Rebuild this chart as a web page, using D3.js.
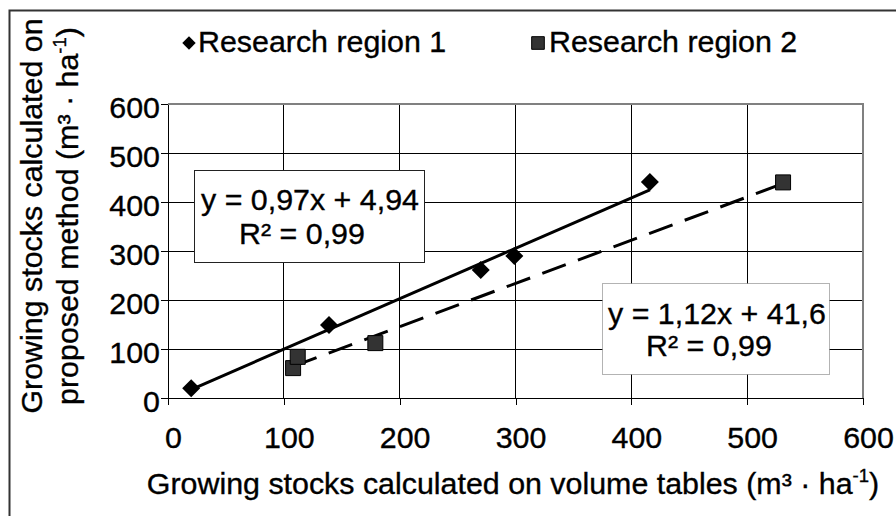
<!DOCTYPE html>
<html><head><meta charset="utf-8">
<script src="https://cdn.jsdelivr.net/npm/d3@7"></script>
<style>
body{margin:0;background:#fff;}
text{font-family:"Liberation Sans",Arial,sans-serif;fill:#000;stroke:#000;stroke-width:0.35px;}
</style></head><body>
<svg id="c" width="896" height="516"></svg>
<script>
// ---- data ----
const seriesNames = ["Research region 1", "Research region 2"];
const region1X = [20, 139, 270, 299, 416];
const region1Y = [20, 149, 261, 290, 441];
const region2X = [108, 112, 179, 531];
const region2Y = [61, 84, 112, 440];
const xTicks = [0, 100, 200, 300, 400, 500, 600];
const yTicks = [0, 100, 200, 300, 400, 500, 600];
const eq1Lines = ["y = 0,97x + 4,94", "R² = 0,99"];
const eq2Lines = ["y = 1,12x + 41,6", "R² = 0,99"];
const xTitle = "Growing stocks calculated on volume tables (m³ · ha";
const yTitle1 = "Growing stocks calculated on";
const yTitle2 = "proposed method (m³ · ha";
const supText = "-1";

// ---- layout ----
const FS = 29.5, SX = 1.03;
const svg = d3.select("#c");
const x = d3.scaleLinear().domain([0, 600]).range([168, 863]);
const y = d3.scaleLinear().domain([0, 600]).range([398, 104]);

// outer chart border (runs off right/bottom)
svg.append("rect").attr("x", 9.5).attr("y", 10.5).attr("width", 900).attr("height", 520)
  .attr("fill", "#fff").attr("stroke", "#333").attr("stroke-width", 2);

// grid lines
const g = svg.append("g").attr("shape-rendering", "crispEdges");
g.selectAll(".vg").data(xTicks.filter(d => d > 0 && d < 600)).join("line")
  .attr("x1", d => x(d)).attr("x2", d => x(d)).attr("y1", y(600)).attr("y2", y(0))
  .attr("stroke", "#000").attr("stroke-width", 1);
g.selectAll(".hg").data(yTicks.filter(d => d > 0 && d < 600)).join("line")
  .attr("x1", x(0)).attr("x2", x(600)).attr("y1", d => y(d)).attr("y2", d => y(d))
  .attr("stroke", "#000").attr("stroke-width", 1);
// plot border top/right
g.append("line").attr("x1", x(0)).attr("x2", x(600) + 1).attr("y1", y(600)).attr("y2", y(600))
  .attr("stroke", "#808080").attr("stroke-width", 1.5);
g.append("line").attr("x1", x(600)).attr("x2", x(600)).attr("y1", y(600)).attr("y2", y(0))
  .attr("stroke", "#808080").attr("stroke-width", 2);

// axes
const xAxis = svg.append("g").attr("transform", `translate(0,${y(0)})`)
  .call(d3.axisBottom(x).tickValues(xTicks).tickSize(7).tickSizeOuter(0));
const yAxis = svg.append("g").attr("transform", `translate(${x(0)},0)`)
  .call(d3.axisLeft(y).tickValues(yTicks).tickSize(7).tickSizeOuter(0));
[xAxis, yAxis].forEach(a => {
  a.attr("shape-rendering", "crispEdges");
  a.select(".domain").attr("stroke", "#000").attr("stroke-width", 1.3);
  a.selectAll(".tick line").attr("stroke", "#000");
  a.selectAll("text").style("font-size", FS + "px").attr("fill", "#000")
    .attr("font-family", null).attr("shape-rendering", "auto");
});
xAxis.selectAll("text").attr("x", 0).attr("y", 0).attr("dy", null)
  .attr("transform", `translate(5,50) scale(${SX},1)`);
yAxis.selectAll("text").attr("x", 0).attr("y", 0).attr("dy", null)
  .attr("transform", `translate(-8,13) scale(${SX},1)`);

// trend lines (least squares through each series)
function fit(xs, ys) {
  const mx = d3.mean(xs), my = d3.mean(ys);
  let sxy = 0, sxx = 0;
  xs.forEach((v, i) => { sxy += (v - mx) * (ys[i] - my); sxx += (v - mx) * (v - mx); });
  const b = sxy / sxx, a = my - b * mx;
  const x0 = d3.min(xs), x1 = d3.max(xs);
  return [[x0, a + b * x0], [x1, a + b * x1]];
}
const line = d3.line().x(d => x(d[0])).y(d => y(d[1]));
svg.append("path").attr("d", line(fit(region1X, region1Y)))
  .attr("fill", "none").attr("stroke", "#000").attr("stroke-width", 3);
svg.append("path").attr("d", line(fit(region2X, region2Y)))
  .attr("fill", "none").attr("stroke", "#000").attr("stroke-width", 3)
  .attr("stroke-dasharray", "25,13");

// markers
const diamond = { draw(ctx, size) { const r = Math.sqrt(size / 2);
  ctx.moveTo(0, -r); ctx.lineTo(r, 0); ctx.lineTo(0, r); ctx.lineTo(-r, 0); ctx.closePath(); } };
const r1 = region1X.map((v, i) => [v, region1Y[i]]);
const r2 = region2X.map((v, i) => [v, region2Y[i]]);
svg.selectAll(".m1").data(r1).join("path")
  .attr("transform", d => `translate(${x(d[0])},${y(d[1])})`)
  .attr("d", d3.symbol().type(diamond).size(162)).attr("fill", "#000");
svg.selectAll(".m2").data(r2).join("path")
  .attr("transform", d => `translate(${x(d[0])},${y(d[1])})`)
  .attr("d", d3.symbol().type(d3.symbolSquare).size(225))
  .attr("fill", "#333").attr("stroke", "#000").attr("stroke-width", 1);

// helper for stretched text
function txt(parent, str, tx, ty, anchor, rot) {
  return parent.append("text").attr("text-anchor", anchor || "start")
    .style("font-size", FS + "px")
    .attr("transform", `translate(${tx},${ty})${rot ? " rotate(" + rot + ")" : ""} scale(${SX},1)`)
    .text(str);
}

// equation boxes
svg.append("rect").attr("x", 194.5).attr("y", 170.5).attr("width", 230).attr("height", 92)
  .attr("fill", "#fff").attr("stroke", "#222").attr("stroke-width", 1);
txt(svg, eq1Lines[0], 310, 210, "middle");
txt(svg, eq1Lines[1], 302, 244, "middle");
svg.append("rect").attr("x", 602.5).attr("y", 283.5).attr("width", 227).attr("height", 91)
  .attr("fill", "#fff").attr("stroke", "#666").attr("stroke-width", 1).attr("stroke-dasharray", "1,1");
txt(svg, eq2Lines[0], 717, 324, "middle");
txt(svg, eq2Lines[1], 709, 356, "middle");

// legend
svg.append("path").attr("transform", "translate(189,43)")
  .attr("d", d3.symbol().type(diamond).size(90)).attr("fill", "#000");
txt(svg, seriesNames[0], 198, 52, "start");
svg.append("path").attr("transform", "translate(538,43)")
  .attr("d", d3.symbol().type(d3.symbolSquare).size(160))
  .attr("fill", "#333").attr("stroke", "#000").attr("stroke-width", 1);
txt(svg, seriesNames[1], 549, 52, "start");

// axis titles
function withSup(t, base) {
  t.text(null);
  t.append("tspan").text(base);
  t.append("tspan").text(supText).style("font-size", "18px").attr("dy", -12);
  t.append("tspan").text(")").attr("dy", 12);
  return t;
}
withSup(txt(svg, "", 513, 494, "middle"), xTitle);
txt(svg, yTitle1, 42, 216, "middle", -90);
withSup(txt(svg, "", 78, 216, "middle", -90), yTitle2);
</script>
</body></html>
